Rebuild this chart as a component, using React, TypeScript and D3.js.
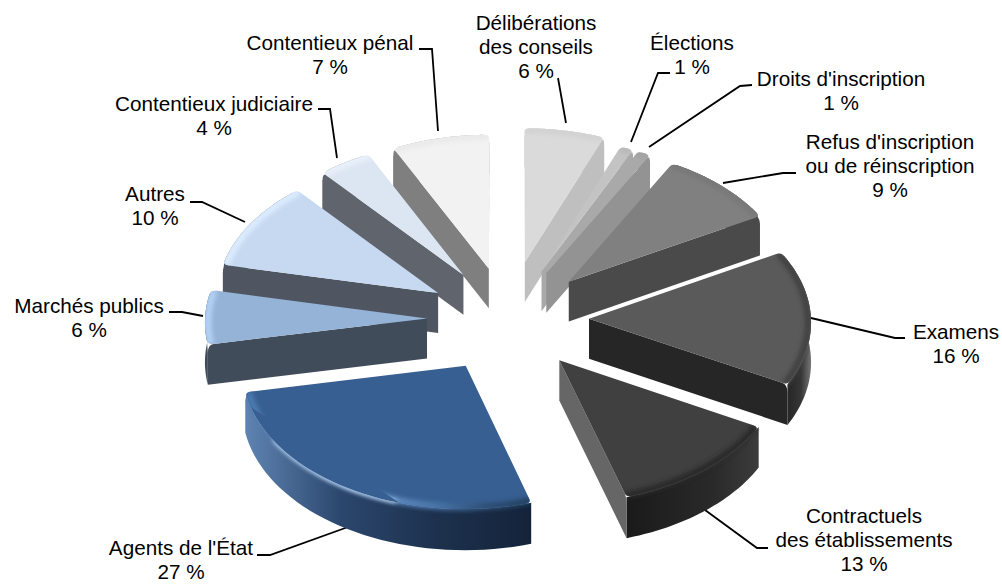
import React from 'react';
import * as d3 from 'd3';

// data, clockwise from 12 o'clock
const categories = [
  ['Délibérations', 'des conseils'],
  ['Élections'],
  ["Droits d'inscription"],
  ["Refus d'inscription", 'ou de réinscription'],
  ['Examens'],
  ['Contractuels', 'des établissements'],
  ["Agents de l'État"],
  ['Marchés publics'],
  ['Autres'],
  ['Contentieux judiciaire'],
  ['Contentieux pénal'],
];
// the labels show them rounded
const shares = [6, 1, 1, 9, 15.8, 12.5, 26.7, 6.3, 10.4, 4, 7.3];

// colours per slice
const topColors = ['#DADADA', '#C3C3C3', '#A9A9A9', '#808080', '#5A5A5A', '#404040', '#375F92', '#95B3D7', '#C6D9F1', '#DCE6F2', '#F2F2F2'];
const rimColors = [
  ['#D2D2D2'], ['#BABABA'], ['#A2A2A2'], ['#787878'], ['#424242'], ['#2C2C2C'],
  ['#4A78AE', '#5F8CC2', '#6F9BD0', '#5F8CC2', '#4A75A8', '#2F5078', '#22405F'],
  ['#B4D2F5'], ['#DCECFF'], ['#E8F0FA'], ['#EAEAEA'],
];
const sideColors = ['#BFBFBF', '#A9A9A9', '#939393', '#4A4A4A', '#262626', '#666666', '#2A466C', '#404C5A', '#4F5661', '#60646C', '#7F7F7F'];
const wallColors = [
  ['#BFBFBF'], ['#A9A9A9'], ['#939393'], ['#4A4A4A'],
  ['#262626', '#2A2A2A', '#363636', '#777777'],
  ['#1A1A1A', '#222222', '#2A2A2A', '#3C3C3C'],
  ['#5F84B2', '#2B476D', '#1D314E', '#14233A'],
  ['#404C5A'], ['#4F5661'], ['#60646C'], ['#7F7F7F'],
];

// per-slice shift of the exploded position, px
const nudges = [[3, -6], [2, 0], [2, 0], [3, -1], [-2, -1], [-1, -1], [4, 0], [6, -1], [5, 0], [4, -1], [2, 0]];

// label placement: x/y of first line, leader polyline
const labelLayout = [
  { x: 536, y: 30, line: [[558, 78], [566, 123]] },
  { x: 692, y: 50, line: [[670, 73], [658, 73], [631, 142]] },
  { x: 841, y: 86, line: [[752, 85], [740, 86], [649, 147]] },
  { x: 890, y: 149, line: [[796, 173], [783, 173], [723, 183]] },
  { x: 956, y: 339, line: [[905, 338], [895, 338], [811, 318]] },
  { x: 864, y: 523, line: [[768, 548], [757, 548], [705, 510]] },
  { x: 181, y: 555, line: [[257, 555], [270, 555], [348, 527]] },
  { x: 89, y: 313, line: [[169, 312], [182, 312], [203, 316]] },
  { x: 155, y: 201, line: [[190, 202], [202, 202], [245, 222]] },
  { x: 214, y: 111, line: [[318, 109], [330, 109], [337, 158]] },
  { x: 330, y: 50, line: [[419, 49], [432, 49], [438, 131]] },
];

const width = 1002;
const height = 584;
const cx = 506;
const cy = 320;
const radius = 222;
const explode = 85;
const tilt = 0.625;
const persp = 0.02;
const depth = 40;
const corner = 6;
const agentsIndex = 6;
const deg = Math.PI / 180;

const project = (x: number, y: number, z: number) => {
  const s = 1 + (persp * y) / radius;
  return [cx + x * s, cy + (y * tilt + z) * s];
};

const slices = d3.pie<number>().sort(null).value(d => d).startAngle(0).endAngle(2 * Math.PI)(shares);

const sliceGeom = slices.map((sl, i) => {
  const mid = (sl.startAngle + sl.endAngle) / 2;
  const ox = explode * Math.sin(mid);
  const oy = -explode * Math.cos(mid);
  const [nx, ny] = nudges[i];
  const at = (a: number, r: number, z = 0) => {
    const q = project(ox + r * Math.sin(a), oy - r * Math.cos(a), z);
    return [q[0] + nx, q[1] + ny];
  };
  return { i, a0: sl.startAngle, a1: sl.endAngle, mid, at };
});

const arcAngles = (a0: number, a1: number) => d3.range(0, 41).map(k => a0 + ((a1 - a0) * k) / 40);
const cornerAngle = g => Math.min(corner / radius, (g.a1 - g.a0) / 3);

// top face with rounded outer corners
function topPath(g) {
  const d = cornerAngle(g);
  const p = d3.path();
  const pt = (v, fn) => fn.call(p, v[0], v[1]);
  pt(g.at(0, 0), p.moveTo);
  pt(g.at(g.a0, radius - corner), p.lineTo);
  let c = g.at(g.a0, radius);
  let e = g.at(g.a0 + d, radius);
  p.quadraticCurveTo(c[0], c[1], e[0], e[1]);
  arcAngles(g.a0 + d, g.a1 - d).forEach(a => pt(g.at(a, radius), p.lineTo));
  c = g.at(g.a1, radius);
  e = g.at(g.a1, radius - corner);
  p.quadraticCurveTo(c[0], c[1], e[0], e[1]);
  p.closePath();
  return p.toString();
}

function rimPath(g) {
  const line = d3.line();
  return line(arcAngles(g.a0, g.a1).map(a => g.at(a, radius - 3)));
}

// the glint along the front of the blue slice
function glintPath(g) {
  const line = d3.line();
  return line(arcAngles(198 * deg, 238 * deg).map(a => g.at(a, radius - 1)));
}

// front right corners keep the wall right up to the top face
const cornerDrop = (a: number) => (Math.sin(a) > 0 && Math.cos(a) < 0 ? 0 : 8);

function outerWallPath(g) {
  const line = d3.line();
  const d = cornerAngle(g);
  const top = arcAngles(g.a0 + d, g.a1 - d).map(a => g.at(a, radius, 0));
  const bottom = arcAngles(g.a0, g.a1).reverse().map(a => g.at(a, radius, depth));
  return line([g.at(g.a0, radius, cornerDrop(g.a0)), ...top, g.at(g.a1, radius, cornerDrop(g.a1)), ...bottom]) + 'Z';
}

// radial wall, rounded towards the outer top corner
function radialWallPath(g, a) {
  const p = d3.path();
  const pt = (v, fn) => fn.call(p, v[0], v[1]);
  pt(g.at(0, 0), p.moveTo);
  pt(g.at(a, radius - corner), p.lineTo);
  const c = g.at(a, radius);
  const e = g.at(a, radius, 8);
  p.quadraticCurveTo(c[0], c[1], e[0], e[1]);
  pt(g.at(a, radius, depth), p.lineTo);
  pt(g.at(0, 0, depth), p.lineTo);
  p.closePath();
  return p.toString();
}

// back to front
const drawOrder = [...sliceGeom].sort((a, b) => -Math.cos(a.mid) - -Math.cos(b.mid));

const gradStops = (colors: string[]) =>
  colors.map((c, k) => <stop key={k} offset={colors.length > 1 ? k / (colors.length - 1) : 0} stopColor={c} />);

const Slice = ({ g }) => {
  const { i } = g;
  const showEnd = Math.sin(g.a1) > 0;
  const showStart = Math.sin(g.a0) < 0;
  return (
    <g>
      <path d={outerWallPath(g)} fill={`url(#wall${i})`} />
      {showEnd && <path d={radialWallPath(g, g.a1)} fill={sideColors[i]} />}
      {showStart && <path d={radialWallPath(g, g.a0)} fill={sideColors[i]} />}
      <path d={topPath(g)} fill={topColors[i]} />
      <g clipPath={`url(#clip${i})`}>
        <path d={rimPath(g)} fill="none" stroke={`url(#rim${i})`} strokeWidth={7} filter="url(#soft)" />
        {i === agentsIndex && (
          <path d={glintPath(g)} fill="none" stroke="#DCEDFF" strokeWidth={3} strokeLinecap="round" filter="url(#soft)" />
        )}
      </g>
    </g>
  );
};

export default function App() {
  return (
    <svg width={width} height={height} style={{ position: 'absolute', left: 0, top: 0, background: '#fff' }}>
      <defs>
        <filter id="soft" filterUnits="userSpaceOnUse" x={0} y={0} width={width} height={height}>
          <feGaussianBlur stdDeviation="2" />
        </filter>
        {sliceGeom.map(g => (
          <React.Fragment key={g.i}>
            <clipPath id={`clip${g.i}`}>
              <path d={topPath(g)} />
              {Math.cos(g.mid) < 0.3 && <path d={outerWallPath(g)} />}
            </clipPath>
            <linearGradient id={`wall${g.i}`}>{gradStops(wallColors[g.i])}</linearGradient>
            <linearGradient id={`rim${g.i}`}>{gradStops(rimColors[g.i])}</linearGradient>
          </React.Fragment>
        ))}
      </defs>
      {labelLayout.map((l, i) => (
        <path key={i} d={d3.line()(l.line as [number, number][])} fill="none" stroke="#000" strokeWidth={1.8} />
      ))}
      {drawOrder.map(g => (
        <Slice key={g.i} g={g} />
      ))}
      <g fontFamily="'Liberation Sans', Arial, sans-serif" fontSize={20.7} fill="#000" textAnchor="middle">
        {labelLayout.map((l, i) => (
          <text key={i} x={l.x} y={l.y}>
            {[...categories[i], `${Math.round(shares[i])} %`].map((t, k) => (
              <tspan key={k} x={l.x} dy={k === 0 ? 0 : 24}>
                {t}
              </tspan>
            ))}
          </text>
        ))}
      </g>
    </svg>
  );
}
